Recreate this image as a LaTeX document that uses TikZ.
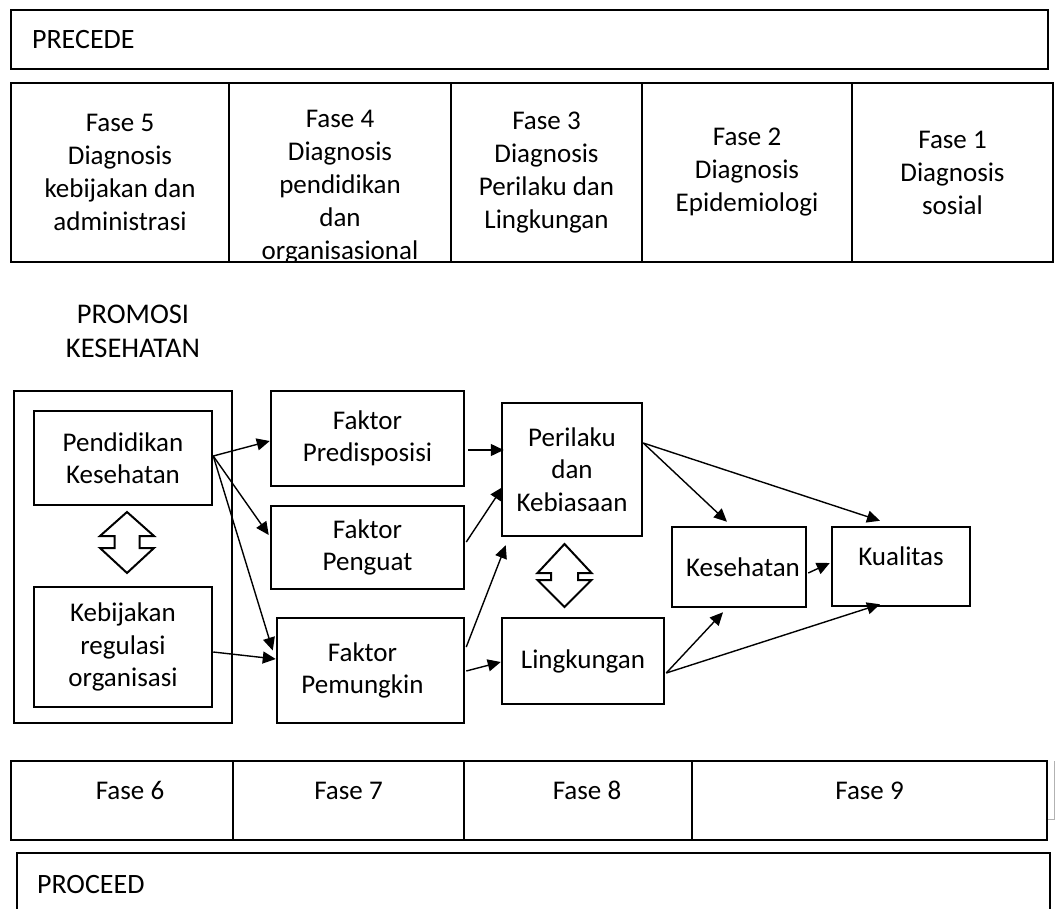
\documentclass[tikz,border=0pt]{standalone}
\usepackage{fontspec}
\setmainfont{Carlito}
\usetikzlibrary{arrows.meta,calc}
\begin{document}
\begin{tikzpicture}[x=1pt,y=-1pt,
  every node/.style={font=\fontsize{27}{32.5}\selectfont},
  box/.style={draw, line width=2.5pt, inner sep=0pt, align=center},
  banner/.style={draw, line width=2.3pt, inner sep=0pt},
  bannertext/.style={anchor=west, inner sep=0pt, font=\fontsize{28}{33}\selectfont},
  cell/.style={draw, line width=2.9pt, inner sep=0pt, align=center, minimum height=179pt,
    font=\fontsize{27}{33}\selectfont},
  bcell/.style={draw, line width=2.4pt, inner sep=0pt, align=center, minimum height=79pt, text depth=20pt},
  conn/.style={line width=1.4pt, -{Triangle[length=13pt,width=12pt]}},
  dblarrow/.style={draw, line width=2pt, line join=miter, fill=white}
]
\useasboundingbox (0,0) rectangle (1055,908);

% PRECEDE banner
\node[banner, minimum width=1037pt, minimum height=59pt,
  label={[bannertext]west:\hspace*{22pt}PRECEDE}] (precede) at (529.5,39.5) {};

% top phase row
\node[cell, minimum width=218pt] (c5) at (120,172.5) {Fase 5\\Diagnosis\\kebijakan dan\\administrasi};
\node[cell, minimum width=222pt, path picture={
  \node[align=center, font=\fontsize{27}{33}\selectfont] at ([yshift=-15pt]path picture bounding box.center)
    {Fase 4\\Diagnosis\\pendidikan\\dan\\organisasional};}] (c4) at (340,172.5) {};
\node[cell, minimum width=191pt] (c3) at (546.5,172.5) {Fase 3\\Diagnosis\\Perilaku dan\\Lingkungan};
\node[cell, minimum width=210pt] (c2) at (747,172.5) {Fase 2\\Diagnosis\\Epidemiologi};
\node[cell, minimum width=201pt] (c1) at (952.5,172.5) {Fase 1\\Diagnosis\\sosial};

% PROMOSI KESEHATAN
\node[align=center, font=\fontsize{28.5}{34}\selectfont] (promosi) at (133,331) {PROMOSI\\KESEHATAN};

% left group
\node[box, minimum width=218pt, minimum height=332pt] (group) at (123,557) {};
\node[box, minimum width=178pt, minimum height=94pt] (pend) at (123,458) {Pendidikan\\Kesehatan};
\node[box, minimum width=178pt, minimum height=120pt] (kebij) at (123,647) {Kebijakan\\regulasi\\organisasi};

% factors
\node[box, minimum width=193pt, minimum height=95pt] (pred) at (367.5,438.5) {Faktor\\Predisposisi};
\node[box, minimum width=193pt, minimum height=83pt] (peng) at (367.5,547.5) {Faktor\\Penguat};
\node[box, minimum width=187pt, minimum height=105pt] (pemu) at (370.5,670.5) {Faktor\hspace*{16pt}\\Pemungkin\hspace*{16pt}};

% middle
\node[box, minimum width=140pt, minimum height=133pt] (peri) at (572,469.5) {Perilaku\\dan\\Kebiasaan};
\node[box, minimum width=162pt, minimum height=86pt] (ling) at (583,661) {Lingkungan};

% outcomes
\node[box, minimum width=134pt, minimum height=80pt] (kes) at (739,567) {\hspace*{8pt}Kesehatan};
\node[box, minimum width=138pt, minimum height=79pt, text depth=20pt] (kual) at (901,566.5) {Kualitas};

% double arrows
\draw[dblarrow] (127,512) -- (100,536) -- (114.5,536) -- (114.5,548) -- (100,548) -- (127,573)
  -- (154,548) -- (139.5,548) -- (139.5,536) -- (154,536) -- cycle;
\draw[dblarrow] (564.5,544) -- (537.5,573) -- (551,573) -- (551,580) -- (537.5,580) -- (564.5,607)
  -- (591.5,580) -- (578,580) -- (578,573) -- (591.5,573) -- cycle;

% connectors
\draw[conn] ($(pend.east)+(0,-2)$) -- ($(pred.west)+(0,2.5)$);
\draw[conn] ($(pend.east)+(0,-2)$) -- ($(peng.west)+(-1,-12.5)$);
\draw[conn] ($(pend.east)+(0,-2)$) -- ($(pemu.west)+(-3,-20)$);
\draw[conn] ($(kebij.east)+(0,5)$) -- ($(pemu.west)+(0,-11.5)$);
\draw[conn] ($(pred.east)+(3,11.5)$) -- ($(peri.west)+(3,-19.5)$);
\draw[conn] ($(peng.east)+(1,-5.5)$) -- ($(peri.west)+(2,17.5)$);
\draw[conn] ($(pemu.east)+(1,-23.5)$) -- ($(peri.south west)+(5,8)$);
\draw[conn] ($(pemu.east)+(1,0.5)$) -- ($(ling.west)+(0,1)$);
\draw[conn] ($(peri.east)+(0,-26.5)$) -- ($(kes.north)+(-12,-4)$);
\draw[conn] ($(peri.east)+(0,-26.5)$) -- ($(kual.north)+(-21,-5)$);
\draw[conn] ($(ling.east)+(1,12)$) -- ($(kes.south)+(-16,4)$);
\draw[conn] ($(ling.east)+(1,12)$) -- ($(kual.south)+(-21,-3)$);
\draw[conn] ($(kes.east)+(1,6)$) -- ($(kual.west)+(-1,-3.5)$);

% bottom phase row
\node[bcell, minimum width=222pt] (f6) at (122,800.5) {\hspace*{16pt}Fase 6};
\node[bcell, minimum width=231pt] (f7) at (348.5,800.5) {Fase 7};
\node[bcell, minimum width=228pt] (f8) at (578,800.5) {\hspace*{18pt}Fase 8};
\node[bcell, minimum width=355pt] (f9) at (869.5,800.5) {Fase 9};
\draw[gray!60, line width=1pt] (1054.5,761) -- (1054.5,819) -- (f9.east |- 0,819);

% PROCEED banner
\node[banner, minimum width=1033pt, minimum height=62pt,
  label={[bannertext]west:\hspace*{21pt}PROCEED}] (proceed) at (533.5,884) {};
\end{tikzpicture}
\end{document}
